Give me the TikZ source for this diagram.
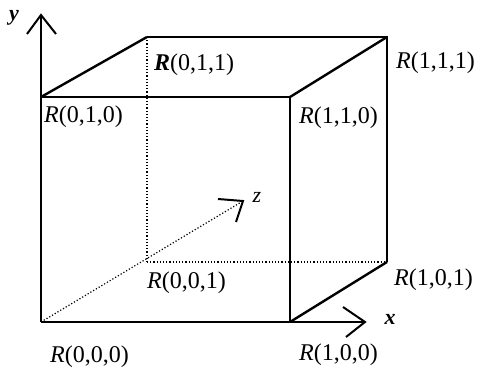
\documentclass[tikz,border=0pt]{standalone}
\usepackage{fontspec}
\setmainfont{Liberation Serif}
\begin{document}
\begin{tikzpicture}[x=1pt,y=1pt,
  edge/.style={line width=1.8pt},
  diag/.style={line width=2.4pt},
  hidden/.style={line width=1.2pt,dotted},
  axisline/.style={line width=1.8pt},
  barb/.style={line width=2pt},
  lbl/.style={anchor=west,inner sep=0pt,font=\fontsize{24}{28}\selectfont},
  axlbl/.style={inner sep=0pt,font=\fontsize{22}{26}\selectfont\bfseries\itshape}]
\useasboundingbox (0,0) rectangle (479,371);
\fill[white] (0,0) rectangle (479,371);
% cube corners
\coordinate (A000) at (41,49);
\coordinate (A100) at (290,49);
\coordinate (A010) at (41,274);
\coordinate (A110) at (290,274);
\coordinate (A001) at (147,109);
\coordinate (A101) at (387,109);
\coordinate (A011) at (147,334);
\coordinate (A111) at (387,334);
% axis tips and barbs
\coordinate (yTip) at (41,356);
\coordinate (yL) at (27,337);
\coordinate (yR) at (56,337);
\coordinate (xTip) at (365,49);
\coordinate (xU) at (343,64);
\coordinate (xD) at (346,34);
\coordinate (zTip) at (243,170);
\coordinate (zL) at (218,172);
\coordinate (zD) at (236,149);
% hidden edges
\draw[hidden] (A011) -- (A001);
\draw[hidden] (A001) -- (A101);
\draw[hidden] (A000) -- (zTip);
% front face
\draw[edge] (A010) -- (A110) -- (A100);
% back face
\draw[edge] (A011) -- (A111) -- (A101);
% diagonals
\draw[diag] (A010) -- (A011);
\draw[diag] (A110) -- (A111);
\draw[diag] (A100) -- (A101);
% axes
\draw[axisline] (A000) -- (yTip);
\draw[axisline] (A000) -- (xTip);
\draw[barb] (yL) -- (yTip) -- (yR);
\draw[barb] (xU) -- (xTip) -- (xD);
\draw[barb] (zL) -- (zTip) -- (zD);
% labels
\node[axlbl] (ly) at (14,353) {y};
\node[axlbl] (lx) at (390,52) {x};
\node[inner sep=0pt,font=\fontsize{22}{26}\selectfont\itshape] (lz) at (257,174) {z};
\node[lbl] (l011) at (154,306) {\textbf{\textit{R}}(0,1,1)};
\node[lbl] (l010) at (44,254) {\textit{R}(0,1,0)};
\node[lbl] (l111) at (396,308) {\textit{R}(1,1,1)};
\node[lbl] (l110) at (299,253) {\textit{R}(1,1,0)};
\node[lbl] (l001) at (147,88) {\textit{R}(0,0,1)};
\node[lbl] (l000) at (50,14) {\textit{R}(0,0,0)};
\node[lbl] (l101) at (394,91) {\textit{R}(1,0,1)};
\node[lbl] (l100) at (299,16) {\textit{R}(1,0,0)};
\end{tikzpicture}
\end{document}
